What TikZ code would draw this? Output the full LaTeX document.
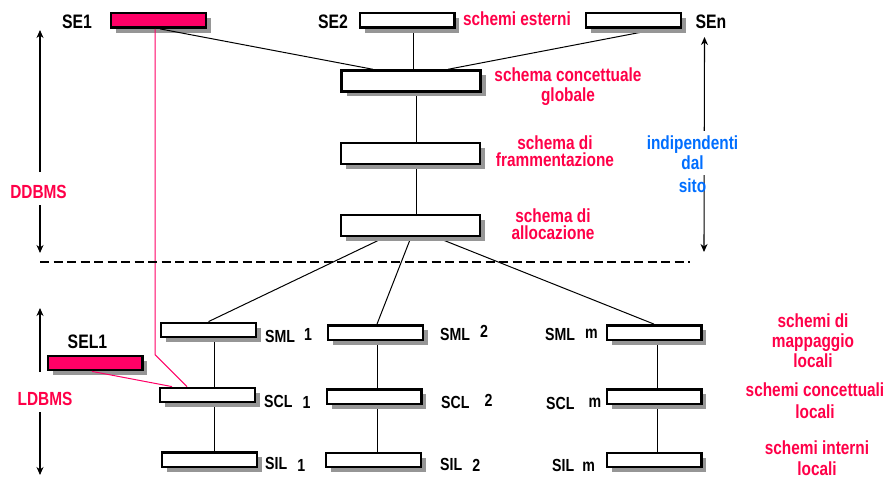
\documentclass[tikz,border=0pt]{standalone}
\usepackage{fontspec}
\setmainfont{Liberation Sans}[FakeStretch=0.81]
\usetikzlibrary{arrows.meta}
\definecolor{crimsonfill}{RGB}{255,0,102}
\definecolor{labelred}{RGB}{255,0,72}
\definecolor{labelblue}{RGB}{0,110,255}
\definecolor{shadegray}{RGB}{150,150,150}
\pgfdeclarelayer{links}
\pgfsetlayers{links,main}
% a schema box with its drop shadow: [extra style]{name}{position}
\newcommand\mkbox[3][]{%
  \node[schemabox,#1,fill=shadegray,draw=none] (#2-shadow) at ([xshift=5pt,yshift=-5pt]#3) {};
  \node[schemabox,#1] (#2) at (#3) {};}
\begin{document}
\begin{tikzpicture}[x=1pt,y=-1pt,
  schemabox/.style={draw,line width=2.4pt,fill=white,inner sep=0pt,
    minimum width=94.6pt,minimum height=14.4pt},
  wide/.style={minimum width=139pt,minimum height=21pt},
  red box/.style={fill=crimsonfill},
  conn/.style={line width=1pt},
  pinkconn/.style={line width=1pt,draw=crimsonfill},
  tag/.style={font=\fontsize{17.5}{18}\selectfont\bfseries,inner sep=0pt,anchor=base west},
  boxname/.style={font=\fontsize{19.5}{20}\selectfont\bfseries,inner sep=0pt,anchor=base},
  redtext/.style={text=labelred,align=center,inner sep=0pt,anchor=base,
    font=\fontsize{19}{#1}\selectfont\bfseries},
  redtext/.default=20pt,
  bluetext/.style={text=labelblue,align=center,inner xsep=1pt,inner ysep=5pt,anchor=base,
    font=\fontsize{19}{20.5}\selectfont\bfseries},
  tip/.style={line width=1.1pt,-{Stealth[length=8pt,width=7pt,inset=2.5pt]}},
  twotip/.style={line width=1.1pt,{Stealth[length=8pt,width=7pt,inset=2.5pt]}-{Stealth[length=8pt,width=7pt,inset=2.5pt]}},
  cut/.style={line width=1.2pt,dash pattern=on 9pt off 4.5pt}
]
\useasboundingbox (0,0) rectangle (886,478);

% ---- schema boxes ----
\mkbox{se1}{158.5,20.5}
\node[schemabox,red box] at (se1) {};
\mkbox{se2}{407,20.5}
\mkbox{sen}{633.5,20.5}
\mkbox[wide]{glob}{411,81}
\mkbox[wide]{fram}{410.5,153.5}
\mkbox[wide]{allo}{410.5,225.5}
\mkbox{sml1}{208.5,330}
\mkbox{sml2}{375.5,332.5}
\mkbox{smlm}{654,332.5}
\mkbox{scl1}{207.5,395}
\mkbox{scl2}{374,396.5}
\mkbox{sclm}{654,396.5}
\mkbox{sil1}{209.5,459.5}
\mkbox{sil2}{373.5,460}
\mkbox{silm}{654,460}
\mkbox{sel1}{95,363}
\node[schemabox,red box] at (sel1) {};

% ---- connectors behind the boxes ----
\begin{pgfonlayer}{links}
  \draw[conn] ([xshift=6pt]se2.south) -- ([xshift=2pt]glob.north);
  \draw[conn] ([xshift=25pt]sen.south) -- ([xshift=37pt]glob.north);
  \draw[conn] ([xshift=5pt]glob.south) -- ([xshift=5.5pt]fram.north);
  \draw[conn] ([xshift=5.5pt]fram.south) -- ([xshift=5.5pt]allo.north);
  \draw[conn] ([xshift=-25.5pt]allo.south) -- (sml1.north);
  \draw[conn] ([xshift=0.5pt]allo.south) -- ([xshift=1.5pt]sml2.north);
  \draw[conn] ([xshift=25.5pt]allo.south) -- (smlm.north);
  \draw[conn] ([xshift=5.5pt]sml1.south) -- ([xshift=6.5pt]scl1.north);
  \draw[conn] ([xshift=6.5pt]scl1.south) -- ([xshift=4.5pt]sil1.north);
  \draw[conn] ([xshift=1.5pt]sml2.south) -- ([xshift=3pt]scl2.north);
  \draw[conn] ([xshift=3pt]scl2.south) -- ([xshift=3.5pt]sil2.north);
  \draw[conn] ([xshift=3pt]smlm.south) -- ([xshift=3pt]sclm.north);
  \draw[conn] ([xshift=3pt]sclm.south) -- ([xshift=3pt]silm.north);
\end{pgfonlayer}
\draw[conn] ([xshift=1.5pt]se1.south) -- ([xshift=-38pt]glob.north);

% ---- external local schema links ----
\path ([xshift=-3.5pt]se1.south) coordinate (pinktop);
\draw[pinkconn] (pinktop) -- (pinktop |- sel1.north) -- ([xshift=-20.5pt]scl1.north);
\draw[pinkconn] ([xshift=-3pt]sel1.south) -- ([xshift=-35.5pt]scl1.north);

% ---- box names ----
\node[boxname] (tse1) at (77,29) {SE1};
\node[boxname] (tse2) at (333,29) {SE2};
\node[boxname] (tsen) at (711,29) {SEn};
\node[boxname] (tsel1) at (87.5,348) {SEL1};
\node[tag] (tsml1) at (265,342) {SML\hspace{9pt}\raisebox{2pt}{1}};
\node[tag] (tscl1) at (264,407) {SCL\hspace{10pt}\raisebox{-1pt}{1}};
\node[tag] (tsil1) at (265,469) {SIL\hspace{10pt}\raisebox{-2pt}{1}};
\node[tag] (tsml2) at (440,341) {SML\hspace{10pt}\raisebox{3pt}{2}};
\node[tag] (tscl2) at (441,408) {SCL\hspace{15pt}\raisebox{2pt}{2}};
\node[tag] (tsil2) at (440,470) {SIL\hspace{10pt}\raisebox{-1pt}{2}};
\node[tag] (tsmlm) at (545,341) {SML\hspace{10pt}\raisebox{2pt}{m}};
\node[tag] (tsclm) at (546,409) {SCL\hspace{14pt}\raisebox{2pt}{m}};
\node[tag] (tsilm) at (552,471) {SIL\hspace{8pt}m};

% ---- level descriptions ----
\node[redtext] (lext) at (517,26) {schemi esterni};
\node[redtext=20pt] (lglob) at (568,102) {schema concettuale\\globale};
\node[redtext=17pt] (lfram) at (555,167) {schema di\\frammentazione};
\node[redtext=17.5pt] (lallo) at (553,240) {schema di\\allocazione};
\node[redtext=20pt] (lmap) at (813,367) {schemi di\\mappaggio\\locali};
\node[redtext=21.5pt] (lcon) at (815,418) {schemi concettuali\\locali};
\node[redtext=20.5pt] (lint) at (817,475) {schemi interni\\locali};

% ---- site independence range ----
\coordinate (rtop) at (704.5,37);
\coordinate (rbot) at (704,252);
\draw[twotip] (rtop) -- (rbot);
\node[bluetext,fill=white] (lind) at (692.5,170) {indipendenti\\dal};
\node[bluetext] (lsito) at (692.5,192.5) {sito};

% ---- DDBMS / LDBMS ranges ----
\node[redtext] (ddbms) at (38.5,198.5) {DDBMS};
\coordinate (dtop) at (40,30);
\coordinate (dbot) at (40,253);
\draw[tip] ([xshift=1.5pt,yshift=13pt]ddbms.north) -- (dtop);
\draw[tip] ([xshift=1.5pt,yshift=-6.5pt]ddbms.south) -- (dbot);

\node[redtext] (ldbms) at (45,405) {LDBMS};
\coordinate (ltop) at (40,308);
\coordinate (lbot) at (40,475);
\draw[tip] ([xshift=-5pt,yshift=19.5pt]ldbms.north) -- (ltop);
\draw[tip] ([xshift=-5pt,yshift=-7pt]ldbms.south) -- (lbot);

% ---- boundary between global and local levels ----
\coordinate (cutl) at (40,262);
\coordinate (cutr) at (690,262);
\draw[cut] (cutl) -- (cutr);
\end{tikzpicture}
\end{document}
